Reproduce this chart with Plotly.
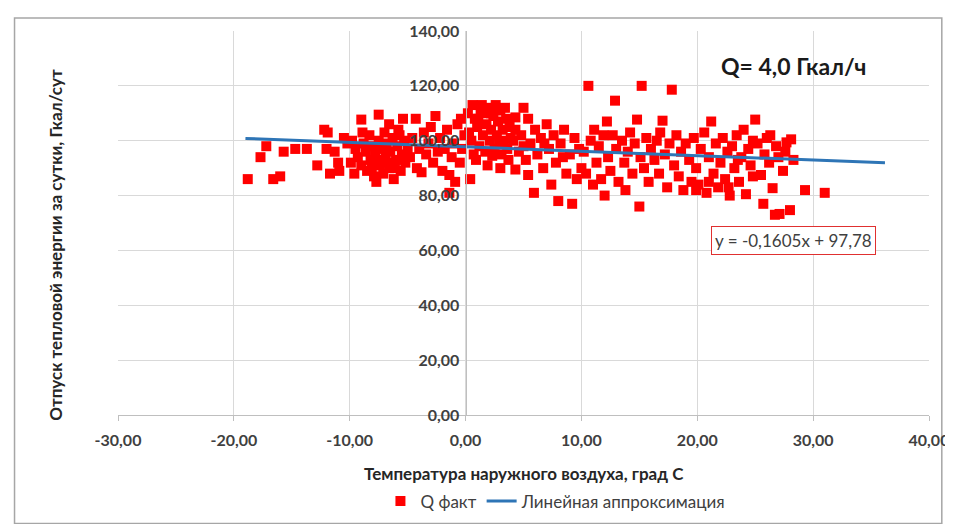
import plotly.graph_objects as go

# ---- data ----
temp = [
    -18.8, -17.7, -17.2, -16.6, -16.0, -15.7, -14.7, -13.7, -12.8, -12.2, -11.9, -11.7, -10.9, -11.3, -10.5, -10.2, -12.0, -11.0,
    -9.8, -9.5, -9.3, -9.0, -9.0, -8.8, -8.6, -8.5, -8.3, -8.2, -8.0, -7.9, -7.8, -7.7, -7.5, -7.5, -7.4, -7.3, -7.1, -7.0,
    -6.9, -6.8, -6.6, -6.6, -6.5, -6.3, -6.2, -6.0, -5.9, -5.8, -5.6, -5.5, -5.4, -5.3, -5.2, -5.0, -9.9, -9.6, -8.9, -8.1,
    -7.6, -6.7, -6.1, -5.7,
    -4.8, -4.6, -4.3, -4.2, -4.0, -3.8, -3.6, -3.4, -3.2, -3.0, -2.8, -2.6, -2.4, -2.2, -2.0, -1.8, -1.6, -1.4, -1.4, -1.2,
    -1.0, -0.9, -0.7, -0.5, -0.4, -0.3, -0.1,
    0.2, 0.4, 0.5, 0.6, 0.7, 0.9, 1.0, 1.1, 1.2, 1.4, 1.5, 1.6, 1.7, 1.8, 1.9, 2.0, 2.1, 2.2, 2.3, 2.4, 2.5, 2.6, 2.7, 2.8,
    2.9, 3.0, 3.1, 3.2, 3.3, 3.4, 3.5, 3.6, 3.7, 3.8, 3.9, 0.3, 0.8, 1.3, 2.2, 3.0,
    4.1, 4.3, 4.3, 4.3, 4.6, 4.8, 5.0, 5.2, 5.4, 5.4, 5.6, 5.9, 6.0, 6.2, 6.5, 6.7, 7.0, 7.2, 7.4, 7.6, 7.8, 8.0, 8.2, 8.5,
    8.7, 9.0, 9.2, 9.4, 9.6, 9.8, 5.0, 6.8, 8.4,
    10.2, 10.4, 10.6, 10.8, 11.0, 11.1, 11.3, 11.5, 11.7, 11.9, 12.2, 12.3, 12.5, 12.7, 12.9, 13.0, 13.2, 13.5, 13.7, 14.0,
    14.2, 14.4, 14.6, 14.8, 15.0, 15.1, 15.2, 15.4, 15.6, 15.8, 16.0, 16.3, 16.5, 16.7, 17.0, 17.2, 17.4, 17.6, 17.8, 18.0,
    18.2, 18.4, 18.6, 18.8, 19.0, 19.3, 19.5, 19.7, 19.9, 10.0, 12.0, 13.8, 16.8,
    20.1, 20.3, 20.6, 20.8, 21.0, 21.2, 21.4, 21.6, 21.8, 22.0, 22.2, 22.4, 22.6, 22.8, 23.0, 23.2, 23.4, 23.6, 23.8, 24.0,
    24.2, 24.4, 24.6, 24.8, 25.0, 25.2, 25.5, 25.7, 25.8, 26.0, 26.2, 26.5, 26.7, 26.8, 27.0, 27.1, 27.4, 27.6, 27.7, 28.0,
    28.1, 28.3, 29.3, 31.0, 19.9, 21.0, 22.7, 23.5, 24.8, 26.3,
]
q_fact = [
    86, 94, 98, 86, 87, 96, 97, 97, 91, 104, 103, 88, 89, 96, 101, 99, 97, 92,
    100, 97, 94, 107.7, 91, 99, 96, 89, 102, 93, 98, 87, 95, 85, 109.5, 100, 91, 97, 88, 103,
    94, 99, 106, 90, 96, 101, 86, 93, 98, 104, 89, 95, 108, 100, 92, 97, 92, 88, 103, 90,
    93, 92, 90, 102,
    94, 101, 108, 90, 97, 88.5, 103, 95, 99, 105, 92, 109, 96, 101, 89, 97, 104, 87.5, 81, 94,
    99, 85, 106, 92, 108, 97, 102,
    110, 86, 100, 113, 95, 93, 105, 108, 98, 113, 102, 110, 96, 106, 91, 112, 100, 104, 94.5, 109, 97, 113, 102, 107,
    99, 111, 95, 104, 100, 112, 108, 97, 93, 105, 101, 103, 108, 111, 110, 90,
    100, 108.5, 104, 89.5, 96, 102, 112, 93, 108, 87.5, 99, 81, 104, 95, 101, 90, 106, 97, 84, 102, 92, 78, 99, 104,
    88, 95, 77, 101, 86, 97, 98, 99, 94,
    96, 88, 120, 100, 84, 104, 92, 98, 86, 102, 107, 94, 89, 102, 114.6, 97, 85, 100, 92, 96,
    103, 88, 99, 107.7, 76, 94, 120, 90, 101, 85, 97, 93, 100, 88, 107.3, 95, 83, 99, 118.6, 91,
    102, 87, 96, 82, 99, 93, 85, 101, 90, 90, 80, 82, 103,
    84, 97, 103, 81, 94, 107, 88, 99, 83, 92, 101, 86, 96, 80, 98, 90, 102, 85, 94, 104,
    80.5, 97, 91, 87, 107.7, 99, 87.5, 77, 95, 101, 92, 82.7, 73, 98, 94, 73.3, 89, 96, 99.4, 74.7,
    100.5, 93, 82, 81, 82, 85, 83, 93, 100, 102,
]

trend_x = [-19.0, 36.2]
trend_slope = -0.1605
trend_intercept = 97.78
trend_y = [trend_slope * x + trend_intercept for x in trend_x]

x_ticks = [-30, -20, -10, 0, 10, 20, 30, 40]
x_tick_labels = ["-30,00", "-20,00", "-10,00", "0,00", "10,00", "20,00", "30,00", "40,00"]
y_ticks = [0, 20, 40, 60, 80, 100, 120, 140]
y_tick_labels = ["0,00", "20,00", "40,00", "60,00", "80,00", "100,00", "120,00", "140,00"]

series_names = ["Q факт", "Линейная аппроксимация"]
x_title = "Температура наружного воздуха, град С"
y_title = "Отпуск тепловой энергии за сутки, Гкал/сут"
q_label = "Q= 4,0 Гкал/ч"
eq_label = "y = -0,1605x + 97,78"

FONT = "Lato, 'Open Sans', sans-serif"
TXT = "#404040"

fig = go.Figure()
fig.add_trace(go.Scatter(
    x=temp, y=q_fact, mode="markers", name=series_names[0],
    marker=dict(symbol="square", size=10, color="#ff0000", line=dict(width=0)),
))
fig.add_trace(go.Scatter(
    x=trend_x, y=trend_y, mode="lines", name=series_names[1],
    line=dict(color="#2e75b6", width=3),
))

fig.update_layout(
    width=953, height=524,
    margin=dict(l=110, r=20, t=23, b=115),
    paper_bgcolor="white", plot_bgcolor="white",
    font=dict(family=FONT, color=TXT, size=16),
    showlegend=True,
    legend=dict(orientation="h", x=0.54, xanchor="center", y=(409 - 496) / 386, yanchor="middle",
                font=dict(family=FONT, size=17, color=TXT), itemwidth=30, tracegroupgap=0),
    xaxis=dict(
        range=[-30, 40], tickvals=x_ticks, ticktext=x_tick_labels,
        showgrid=True, gridcolor="#d9d9d9", gridwidth=1,
        zeroline=False, showline=True, linecolor="#bfbfbf", linewidth=1,
        ticks="outside", ticklen=5, tickcolor="#bfbfbf",
        ticklabelstandoff=6, ticklabeloverflow="allow",
        tickfont=dict(family=FONT, size=16, color=TXT, weight="bold"),
        mirror=False,
    ),
    yaxis=dict(
        range=[0, 140], tickvals=y_ticks, ticktext=y_tick_labels,
        showgrid=True, gridcolor="#d9d9d9", gridwidth=1,
        zeroline=False, showline=True, linecolor="#bfbfbf", linewidth=1,
        anchor="free", position=30 / 70,
        ticks="", ticklabelstandoff=3,
        tickfont=dict(family=FONT, size=16, color=TXT, weight="bold"),
    ),
)

# axis titles as annotations
fig.add_annotation(xref="paper", yref="paper", x=0.5, y=(409 - 468) / 386,
                   text=x_title, showarrow=False, xanchor="center", yanchor="middle",
                   font=dict(family=FONT, size=17, color="#262626", weight="bold"))
fig.add_annotation(xref="paper", yref="paper", x=(47 - 110) / 823, y=(409 - 238) / 386,
                   text=y_title, showarrow=False, textangle=-90, xanchor="center", yanchor="middle",
                   font=dict(family=FONT, size=17, color="#262626", weight="bold"))
fig.add_annotation(xref="paper", yref="paper", x=(795 - 110) / 823, y=(409 - 58) / 386,
                   text=q_label, showarrow=False, xanchor="center", yanchor="middle",
                   font=dict(family=FONT, size=23, color="#1a1a1a", weight="bold"))
fig.add_annotation(xref="paper", yref="paper", x=(795 - 110) / 823, y=(409 - 234) / 386,
                   text=eq_label, showarrow=False, xanchor="center", yanchor="middle",
                   font=dict(family=FONT, size=17, color=TXT),
                   bordercolor="#e03030", borderwidth=1, borderpad=3, bgcolor="white")

# outer chart frame
fig.add_shape(type="rect", xref="paper", yref="paper",
              x0=(5 - 110) / 823, x1=(946 - 110) / 823,
              y0=(409 - 518) / 386, y1=(409 - 10) / 386,
              line=dict(color="#a6a6a6", width=1.5), fillcolor="rgba(0,0,0,0)", layer="below")

fig.write_html("out.html")
